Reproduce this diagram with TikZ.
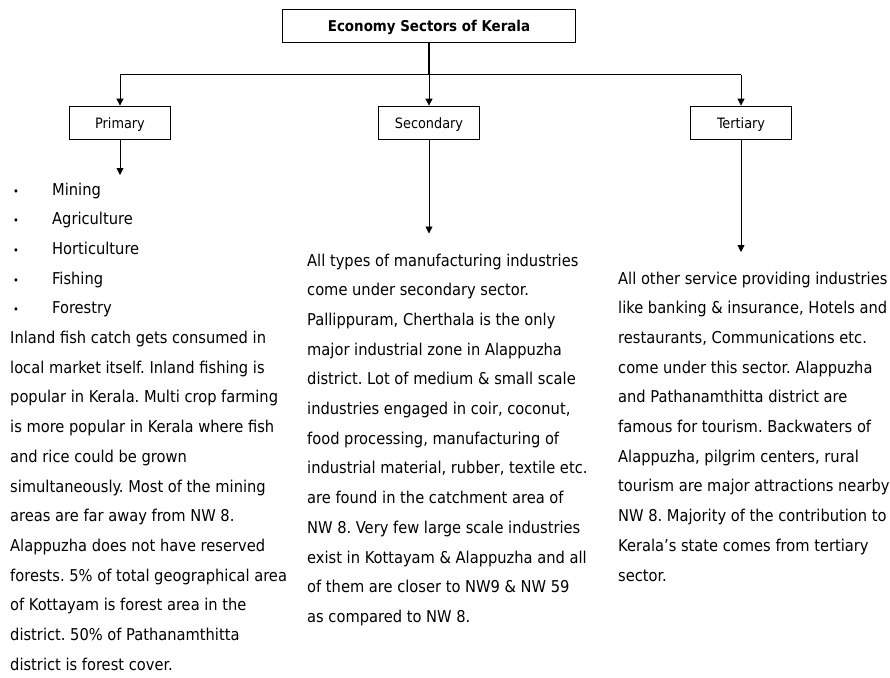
\documentclass[tikz,border=0pt]{standalone}
\usepackage{fontspec}
\setmainfont{DejaVu Sans Condensed}
\usetikzlibrary{arrows.meta,positioning,calc}
\frenchspacing

\begin{document}
\begin{tikzpicture}[
  x=1pt,y=-1pt,
  head/.style={draw,line width=0.8pt,minimum width=293pt,minimum height=33pt,
    inner sep=0pt,text height=11pt,text depth=0pt,
    font=\fontsize{14.9}{18}\selectfont\bfseries},
  sector/.style={draw,line width=0.8pt,minimum width=101pt,minimum height=33pt,
    inner sep=0pt,text height=11pt,text depth=0pt,
    font=\fontsize{14.3}{17}\selectfont},
  desc/.style={align=left,inner sep=0pt,anchor=north west,
    font=\fontsize{16.3}{29.7}\selectfont},
  arr/.style={-{Triangle[length=7pt,width=7pt]},line width=0.8pt},
  link/.style={line width=0.9pt}
]
\useasboundingbox (0,0) rectangle (890,677);

\node[head] (econ) at (429,26) {Economy Sectors of Kerala};
\node[sector] (primary) at (120,122.5) {Primary};
\node[sector] (secondary) at (429,122.5) {Secondary};
\node[sector] (tertiary) at (741,122.5) {Tertiary};

% bus line under the heading
\coordinate (bus) at ([yshift=-32pt]econ.south);
\draw[link,line width=1.6pt] (econ.south) -- (bus);
\draw[link] (primary |- bus) -- (tertiary |- bus);
\draw[arr] (primary |- bus) -- (primary.north);
\draw[arr] (bus) -- (secondary.north);
\draw[arr] (tertiary |- bus) -- (tertiary.north);

% sector descriptions
\newcommand{\itembul}[1]{\hspace*{3pt}\makebox[39pt][l]{\fontsize{11}{11}\selectfont\textbullet}#1}
\node[desc] (ptext) at (10,182.5) {\itembul{Mining}\\
  \itembul{Agriculture}\\
  \itembul{Horticulture}\\
  \itembul{Fishing}\\
  \itembul{Forestry}\\
  Inland fish catch gets consumed in\\
  local market itself. Inland fishing is\\
  popular in Kerala. Multi crop farming\\
  is more popular in Kerala where fish\\
  and rice could be grown\\
  simultaneously. Most of the mining\\
  areas are far away from NW 8.\\
  Alappuzha does not have reserved\\
  forests. 5\% of total geographical area\\
  of Kottayam is forest area in the\\
  district. 50\% of Pathanamthitta\\
  district is forest cover.};
\node[desc] (stext) at (307,253.5) {All types of manufacturing industries\\
  come under secondary sector.\\
  Pallippuram, Cherthala is the only\\
  major industrial zone in Alappuzha\\
  district. Lot of medium \& small scale\\
  industries engaged in coir, coconut,\\
  food processing, manufacturing of\\
  industrial material, rubber, textile etc.\\
  are found in the catchment area of\\
  NW 8. Very few large scale industries\\
  exist in Kottayam \& Alappuzha and all\\
  of them are closer to NW9 \& NW 59\\
  as compared to NW 8.};
\node[desc] (ttext) at (618,271.5) {All other service providing industries\\
  like banking \& insurance, Hotels and\\
  restaurants, Communications etc.\\
  come under this sector. Alappuzha\\
  and Pathanamthitta district are\\
  famous for tourism. Backwaters of\\
  Alappuzha, pilgrim centers, rural\\
  tourism are major attractions nearby\\
  NW 8. Majority of the contribution to\\
  Kerala’s state comes from tertiary\\
  sector.};

\draw[arr] (primary) -- ($(primary.south |- ptext.north)+(0,-7.5)$);
\draw[arr] (secondary) -- ($(secondary.south |- stext.north)+(0,-20)$);
\draw[arr] (tertiary) -- ($(tertiary.south |- ttext.north)+(0,-19.5)$);
\end{tikzpicture}
\end{document}
